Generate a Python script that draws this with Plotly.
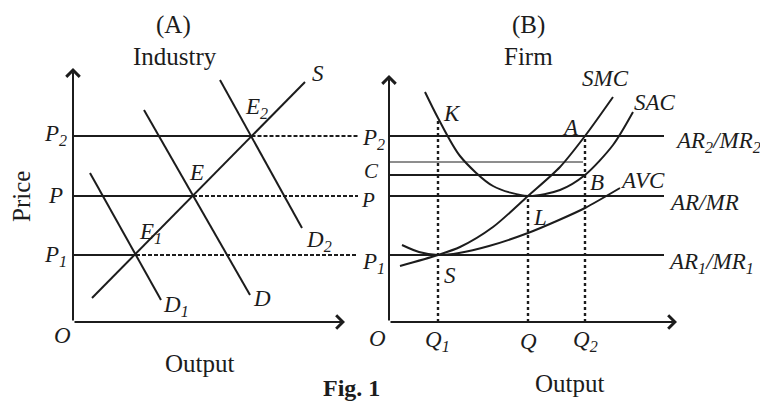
import plotly.graph_objects as go

# ---------------- data (arbitrary units) ----------------
# shared price levels
price_levels = {"P1": 6.7, "P": 12.6, "P2": 18.6}

# Panel A – Industry
supply_x = [1.9, 23.2]
supply_y = [2.4, 24.0]
d1_x = [1.7, 8.8]
d1_y = [14.9, 2.2]
d_x = [7.1, 17.7]
d_y = [21.2, 2.7]
d2_x = [14.7, 22.9]
d2_y = [24.2, 9.4]
equil_x = {"E1": 6.3, "E": 12.0, "E2": 17.85}   # industry equilibrium outputs
dash_end_a = 28.5

# Panel B – Firm
q_levels = {"Q1": 4.9, "Q": 13.9, "Q2": 19.6}
c_level = 14.7
thin_level = 16.0
k_level = 20.4
line_end_b = 27.5

sac_x = [3.6, 4.9, 7.1, 10.4, 13.9, 17.1, 19.6, 22.4, 24.4]
sac_y = [23.0, 20.4, 16.6, 13.6, 12.6, 13.2, 14.7, 17.7, 21.0]
smc_x = [1.1, 4.9, 7.1, 10.4, 13.9, 17.1, 19.6, 22.4]
smc_y = [5.6, 6.7, 7.5, 9.5, 12.6, 15.5, 18.6, 22.5]
avc_x = [1.3, 3.0, 4.9, 7.0, 10.0, 13.9, 17.0, 19.6, 23.1]
avc_y = [7.7, 7.0, 6.7, 6.9, 7.6, 8.9, 10.2, 11.4, 13.4]

# ---------------- styles ----------------
INK = "#1c1c1c"
FONT = "Liberation Serif"
LW = 2
BIG = 25
LAB = 23

fig = go.Figure()

def seg(x, y, xa="x", dash=None, width=LW, shape="linear"):
    fig.add_trace(go.Scatter(
        x=x, y=y, mode="lines", xaxis=xa, yaxis="y",
        line=dict(color=INK, width=width, dash=dash, shape=shape, smoothing=0.8),
        hoverinfo="skip", showlegend=False))

P1, P, P2 = price_levels["P1"], price_levels["P"], price_levels["P2"]

# ---- Panel A lines ----
seg(supply_x, supply_y)
seg(d1_x, d1_y)
seg(d_x, d_y)
seg(d2_x, d2_y)
for lvl, ex in [(P2, equil_x["E2"]), (P, equil_x["E"]), (P1, equil_x["E1"])]:
    seg([0, ex], [lvl, lvl])
    seg([ex, dash_end_a], [lvl, lvl], dash="4px,2px", width=1.8)

# ---- Panel B lines ----
for lvl in [P2, P, P1]:
    seg([0, line_end_b], [lvl, lvl], xa="x2")
seg([0, q_levels["Q2"]], [c_level, c_level], xa="x2")
seg([0, q_levels["Q2"] - 0.2], [thin_level, thin_level], xa="x2", width=1)
seg(sac_x, sac_y, xa="x2", shape="spline")
seg(smc_x, smc_y, xa="x2", shape="spline")
seg(avc_x, avc_y, xa="x2", shape="spline")
for qx, top in [(q_levels["Q1"], k_level), (q_levels["Q"], P), (q_levels["Q2"], P2)]:
    seg([qx, qx], [0, top], xa="x2", dash="dot", width=2.4)

# ---- axes with arrows (annotations) ----
annotations = []
def axis_arrow(xref, x0, y0, x1, y1):
    annotations.append(dict(
        xref=xref, yref="y", axref=xref, ayref="y",
        x=x1, y=y1, ax=x0, ay=y0, text="", showarrow=True,
        arrowhead=4, arrowsize=1.3, arrowwidth=2, arrowcolor=INK))

axis_arrow("x", 0, 0, 0, 25.4)
axis_arrow("x", 0, 0, 27.2, 0)
axis_arrow("x2", 0, 0, 0, 24.7)
axis_arrow("x2", 0, 0, 28.8, 0)

def label(xref, x, y, text, size=LAB, xanchor="center", italic=True, angle=0, bold=False):
    t = text
    if italic:
        t = "<i>" + t + "</i>"
    if bold:
        t = "<b>" + t + "</b>"
    annotations.append(dict(
        xref=xref, yref="y", x=x, y=y, text=t, showarrow=False,
        xanchor=xanchor, yanchor="middle", textangle=angle,
        font=dict(family=FONT, size=size, color=INK)))

# Panel A text
label("x", 10.0, 29.7, "(A)", size=BIG, italic=False)
label("x", 10.2, 26.6, "Industry", size=BIG, italic=False)
label("x", -5.2, 12.5, "Price", size=BIG, italic=False, angle=-90)
label("x", 12.7, -4.1, "Output", size=BIG, italic=False)
label("x", 27.8, -6.6, "Fig. 1", size=24, italic=False, bold=True)
label("x", -1.1, -1.3, "O")
label("x", -1.8, P2 + 0.1, "P<sub>2</sub>")
label("x", -1.8, P + 0.1, "P")
label("x", -1.8, P1 - 0.1, "P<sub>1</sub>")
label("x", 24.5, 24.9, "S")
label("x", 18.3, 21.4, "E<sub>2</sub>")
label("x", 12.3, 15.0, "E")
label("x", 7.7, 8.9, "E<sub>1</sub>")
label("x", 10.3, 1.6, "D<sub>1</sub>")
label("x", 18.9, 2.4, "D")
label("x", 24.6, 8.1, "D<sub>2</sub>")

# Panel B text
label("x2", 13.9, 29.7, "(B)", size=BIG, italic=False)
label("x2", 13.9, 26.6, "Firm", size=BIG, italic=False)
label("x2", 18.1, -6.1, "Output", size=BIG, italic=False)
label("x2", -1.2, -1.6, "O")
label("x2", q_levels["Q1"] - 0.1, -1.9, "Q<sub>1</sub>")
label("x2", q_levels["Q"], -1.9, "Q")
label("x2", q_levels["Q2"], -1.9, "Q<sub>2</sub>")
label("x2", -1.6, 18.3, "P<sub>2</sub>")
label("x2", -1.8, 15.1, "C", size=21)
label("x2", -2.1, 12.2, "P", size=21)
label("x2", -1.6, 5.9, "P<sub>1</sub>")
label("x2", 21.6, 24.4, "SMC")
label("x2", 26.6, 22.0, "SAC")
label("x2", 25.3, 14.2, "AVC")
label("x2", 6.3, 20.9, "K")
label("x2", 18.1, 19.5, "A")
label("x2", 20.8, 14.0, "B")
label("x2", 15.1, 10.5, "L")
label("x2", 6.1, 4.7, "S")
label("x2", 28.4, 18.0, "AR<sub>2</sub>/MR<sub>2</sub>", xanchor="left")
label("x2", 27.8, 12.0, "AR/MR", xanchor="left")
label("x2", 27.7, 5.9, "AR<sub>1</sub>/MR<sub>1</sub>", xanchor="left")

fig.update_layout(
    width=760, height=410,
    margin=dict(l=0, r=0, t=0, b=0),
    paper_bgcolor="white", plot_bgcolor="white",
    xaxis=dict(range=[-7.3, 68.7], domain=[0, 1], visible=False, fixedrange=True),
    xaxis2=dict(range=[-38.9, 37.1], domain=[0, 1], overlaying="x", anchor="y",
                visible=False, fixedrange=True),
    yaxis=dict(range=[-8.8, 32.2], domain=[0, 1], visible=False, fixedrange=True),
    annotations=annotations,
)

fig.write_html("out.html", config={"displayModeBar": False},
               post_script="document.body.style.margin='0';")
